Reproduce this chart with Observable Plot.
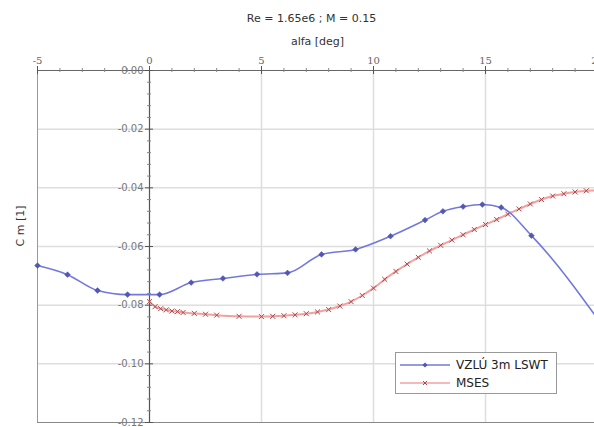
<!DOCTYPE html>
<html>
<head>
<meta charset="utf-8">
<script src="https://cdn.jsdelivr.net/npm/d3@7"></script>
<script src="https://cdn.jsdelivr.net/npm/@observablehq/plot@0.6"></script>
<style>
  html, body { margin: 0; padding: 0; background: white; overflow: hidden; }
  #wrap { position: relative; width: 594px; height: 427px; overflow: hidden; }
  #legend { position: absolute; left: 395px; top: 352px; width: 162px; height: 42px;
    border: 1px solid #999; background: white; box-sizing: border-box;
    font-family: "DejaVu Sans", sans-serif; font-size: 12px; color: #222; }
  #legend .row { position: absolute; left: 4px; height: 14px; display: flex; align-items: center; }
  #legend svg { display: block; }
  #legend span { margin-left: 6px; }
</style>
</head>
<body>
<div id="wrap"></div>
<script>
const title = "Re = 1.65e6 ; M = 0.15";
const xLabel = "alfa [deg]";
const yLabel = "C m [1]";
const seriesNames = ["VZLÚ 3m LSWT", "MSES"];
const seriesColors = ["#7378dd", "#f3a0a0"];
const markerColors = ["#5257b5", "#b04848"];

const xTicks = [-5, 0, 5, 10, 15, 20];
const xTickLabels = ["-5", "0", "5", "10", "15", "20"];
const yTicks = [0, -0.02, -0.04, -0.06, -0.08, -0.10, -0.12];
const yTickLabels = ["0.00", "-0.02", "-0.04", "-0.06", "-0.08", "-0.10", "-0.12"];

// VZLU 3m LSWT measurements
const vzluAlpha = [-5.0, -3.66, -2.32, -0.98, 0.45, 1.86, 3.28, 4.8, 6.16, 7.68, 9.2, 10.76, 12.3, 13.1, 14.0, 14.86, 15.7, 17.05, 20.5];
const vzluCm    = [-0.0665, -0.0696, -0.0750, -0.0764, -0.0764, -0.0723, -0.0709, -0.0695, -0.0690, -0.0627, -0.0610, -0.0565, -0.0510, -0.0480, -0.0464, -0.0457, -0.0467, -0.0563, -0.0900];

// MSES computation
const msesAlpha = [0, 0.25, 0.5, 0.75, 1.0, 1.25, 1.5, 2.0, 2.5, 3.0, 4.0, 5.0, 5.5, 6.0, 6.5, 7.0, 7.5, 8.0, 8.5, 9.0, 9.5, 10.0, 10.5, 11.0, 11.5, 12.0, 12.5, 13.0, 13.5, 14.0, 14.5, 15.0, 15.5, 16.0, 16.5, 17.0, 17.5, 18.0, 18.5, 19.0, 19.5, 20.0];
const msesCm    = [-0.0788, -0.0805, -0.0812, -0.0816, -0.0820, -0.0822, -0.0825, -0.0828, -0.0831, -0.0834, -0.0838, -0.0839, -0.0838, -0.0836, -0.0833, -0.0829, -0.0823, -0.0815, -0.0803, -0.0788, -0.0767, -0.0742, -0.0712, -0.0685, -0.0660, -0.0637, -0.0615, -0.0596, -0.0578, -0.0560, -0.0542, -0.0525, -0.0508, -0.0490, -0.0472, -0.0455, -0.0440, -0.0428, -0.0420, -0.0414, -0.0410, -0.0409];

const vzlu = vzluAlpha.map((a, i) => ({alpha: a, cm: vzluCm[i]}));
const mses = msesAlpha.map((a, i) => ({alpha: a, cm: msesCm[i]}));

const xMinor = d3.range(-5, 21, 1).filter(v => !xTicks.includes(v));
const yMinor = d3.range(0, 31).map(i => -i * 0.004).filter(v => v >= -0.12 && Math.abs((v / 0.02) - Math.round(v / 0.02)) > 1e-6);
const xGrid = [5, 10, 15, 20];
const yGrid = [-0.02, -0.04, -0.06, -0.08, -0.10];

const chart = Plot.plot({
  width: 600,
  height: 427,
  marginTop: 70,
  marginLeft: 37,
  marginRight: 3,
  marginBottom: 5,
  x: {domain: [-5, 20], axis: null},
  y: {domain: [-0.12, 0], axis: null},
  style: {fontFamily: "DejaVu Sans, sans-serif", maxWidth: "none", background: "white"},
  marks: [
    Plot.ruleY(yGrid, {y: d => d, stroke: "#dedede", strokeWidth: 1.5}),
    Plot.ruleX(xGrid, {x: d => d, stroke: "#dedede", strokeWidth: 1.5}),
    Plot.ruleX([-5], {x: d => d, stroke: "#999", strokeWidth: 1}),
    Plot.ruleY([-0.12], {y: d => d, stroke: "#888", strokeWidth: 1}),
    Plot.ruleY([0], {y: d => d, stroke: "#666", strokeWidth: 1.2}),
    Plot.ruleX([0], {x: d => d, stroke: "#555", strokeWidth: 1.2}),
    Plot.ruleX(xTicks, {x: d => d, y1: 0, y2: 0, insetTop: -4, insetBottom: -4, stroke: "#555"}),
    Plot.ruleX(xMinor, {x: d => d, y1: 0, y2: 0, insetTop: -2, insetBottom: -2, stroke: "#888"}),
    Plot.ruleY(yTicks, {y: d => d, x1: 0, x2: 0, insetLeft: -4, insetRight: -4, stroke: "#555"}),
    Plot.ruleY(yMinor, {y: d => d, x1: 0, x2: 0, insetLeft: -2, insetRight: -2, stroke: "#888"}),
    Plot.text(xTicks, {x: d => d, y: 0, dy: -10, text: (d, i) => xTickLabels[i], fontSize: 10, fill: "#666", fontFamily: "DejaVu Serif, serif"}),
    Plot.text(yTicks, {x: 0, y: d => d, dx: -6, text: (d, i) => yTickLabels[i], textAnchor: "end", fontSize: 10, fill: "#777"}),
    Plot.line(mses, {x: "alpha", y: "cm", stroke: seriesColors[1], strokeWidth: 2, curve: "monotone-x"}),
    Plot.dot(mses, {x: "alpha", y: "cm", symbol: "times", r: 2.4, stroke: markerColors[1], strokeWidth: 1}),
    Plot.line(vzlu, {x: "alpha", y: "cm", stroke: seriesColors[0], strokeWidth: 1.6, curve: "monotone-x"}),
    Plot.dot(vzlu, {x: "alpha", y: "cm", symbol: "diamond2", r: 2.6, fill: markerColors[0], stroke: markerColors[0], strokeWidth: 0.5}),
    Plot.text([title], {text: d => d, frameAnchor: "top", dy: -56, dx: -6, fontSize: 11, fill: "#333"}),
    Plot.text([xLabel], {text: d => d, frameAnchor: "top", dy: -33, fontSize: 11, fill: "#333"}),
    Plot.text([yLabel], {text: d => d, frameAnchor: "left", rotate: -90, dx: -17, fontSize: 11, fill: "#333"})
  ]
});

const wrap = document.getElementById("wrap");
wrap.appendChild(chart);

// legend
const legend = document.createElement("div");
legend.id = "legend";
const symbols = ["diamond", "times"];
seriesNames.forEach((name, i) => {
  const row = document.createElement("div");
  row.className = "row";
  row.style.top = (i === 0 ? 5 : 23) + "px";
  const svgNS = "http://www.w3.org/2000/svg";
  const s = document.createElementNS(svgNS, "svg");
  s.setAttribute("width", 50); s.setAttribute("height", 10);
  const ln = document.createElementNS(svgNS, "line");
  ln.setAttribute("x1", 0); ln.setAttribute("x2", 50); ln.setAttribute("y1", 5); ln.setAttribute("y2", 5);
  ln.setAttribute("stroke", seriesColors[i]); ln.setAttribute("stroke-width", 1.5);
  s.appendChild(ln);
  const m = document.createElementNS(svgNS, "path");
  if (symbols[i] === "diamond") {
    m.setAttribute("d", "M25,2.4L27.6,5L25,7.6L22.4,5Z");
    m.setAttribute("fill", markerColors[i]);
  } else {
    m.setAttribute("d", "M23,3L27,7M27,3L23,7");
    m.setAttribute("stroke", markerColors[i]);
    m.setAttribute("stroke-width", 1);
  }
  s.appendChild(m);
  row.appendChild(s);
  const t = document.createElement("span");
  t.textContent = name;
  row.appendChild(t);
  legend.appendChild(row);
});
wrap.appendChild(legend);
</script>
</body>
</html>
